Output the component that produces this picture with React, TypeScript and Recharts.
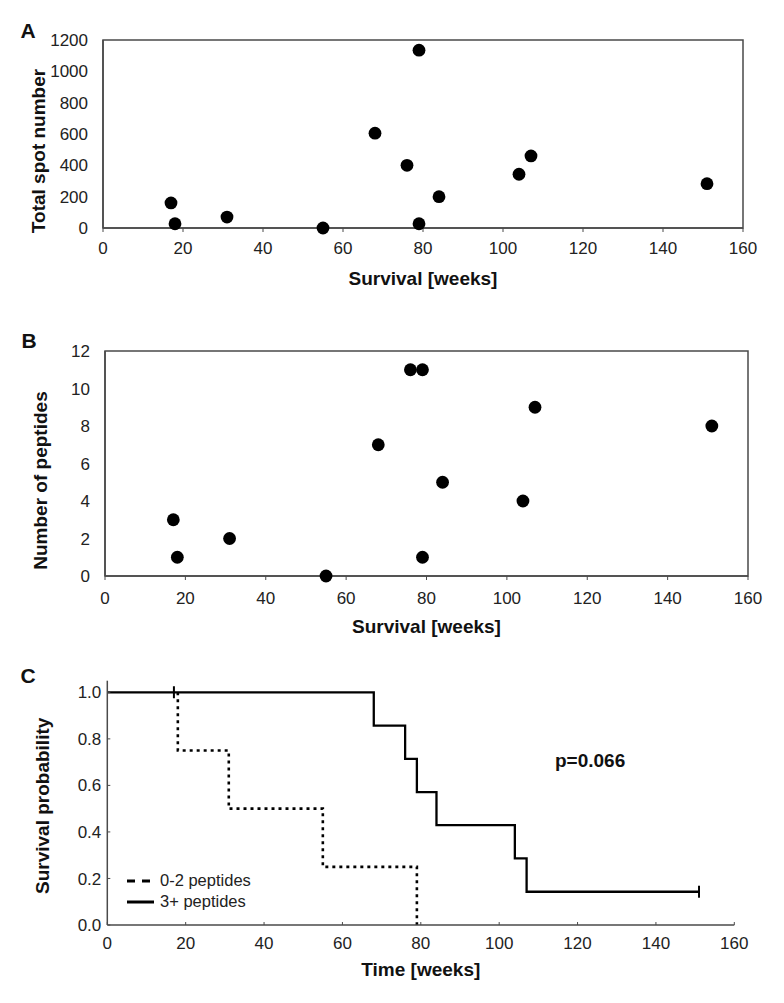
import {
  ScatterChart,
  Scatter,
  ComposedChart,
  Line,
  XAxis,
  YAxis,
  ReferenceArea,
  Label,
  Legend,
} from 'recharts';

// patients: survival in weeks, ELISpot total spots, number of recognised peptides
const survivalWeeks = [17, 18, 31, 55, 68, 76, 79, 79, 84, 104, 107, 151];
const totalSpots = [160, 27, 70, 0, 605, 400, 1135, 27, 200, 343, 460, 283];
const peptideCounts = [3, 1, 2, 0, 7, 11, 11, 1, 5, 4, 9, 8];

// Kaplan-Meier curves (the dotted 0-2 curve is only visible from its first drop on)
const lowTimes = [18, 18, 31, 55, 79];
const lowSurvival = [1, 0.75, 0.5, 0.25, 0];
const highTimes = [0, 68, 76, 79, 84, 104, 107, 151];
const highSurvival = [1, 0.857, 0.714, 0.571, 0.429, 0.286, 0.143, 0.143];
const censorTimes = [17, 151];
const censorSurvival = [1, 0.143];

const weekTicks = [0, 20, 40, 60, 80, 100, 120, 140, 160];
const spotTicks = [0, 200, 400, 600, 800, 1000, 1200];
const peptideTicks = [0, 2, 4, 6, 8, 10, 12];
const probTicks = [0, 0.2, 0.4, 0.6, 0.8, 1.0];

const spotData = survivalWeeks.map((x, i) => ({ x, y: totalSpots[i] }));
const peptideData = survivalWeeks.map((x, i) => ({ x, y: peptideCounts[i] }));
const lowData = lowTimes.map((t, i) => ({ t, s: lowSurvival[i] }));
const highData = highTimes.map((t, i) => ({ t, s: highSurvival[i] }));
const censorData = censorTimes.map((t, i) => ({ t, s: censorSurvival[i] }));

const AXIS = '#4a4a4a';
const tickStyle = { fontSize: 17, fill: '#222' };
const titleStyle = { fontSize: 19, fontWeight: 'bold', fill: '#111' };

const Dot = (p: any) => <circle cx={p.cx} cy={p.cy} r={6.4} fill="#000" />;

const CensorMark = (p: any) => (
  <line x1={p.cx} x2={p.cx} y1={p.cy - 6} y2={p.cy + 6} stroke="#000" strokeWidth={2} />
);

function KmLegend() {
  const row = { display: 'flex', alignItems: 'center', height: 21, fontSize: 16.5, color: '#222' };
  return (
    <div>
      <div style={row}>
        <svg width={27} height={6} style={{ marginRight: 6 }}>
          <line x1={0} x2={25} y1={3} y2={3} stroke="#000" strokeWidth={3} strokeDasharray="8 7" />
        </svg>
        <span>0-2 peptides</span>
      </div>
      <div style={row}>
        <svg width={27} height={6} style={{ marginRight: 6 }}>
          <line x1={0} x2={27} y1={3} y2={3} stroke="#000" strokeWidth={3} />
        </svg>
        <span>3+ peptides</span>
      </div>
    </div>
  );
}

function SurvivalScatter({
  data,
  yTicks,
  yTitle,
  top,
  margin,
  tickGap,
}: {
  data: { x: number; y: number }[];
  yTicks: number[];
  yTitle: string;
  top: number;
  margin: { top: number; right: number; bottom: number; left: number };
  tickGap: number;
}) {
  const yMax = yTicks[yTicks.length - 1];
  return (
    <div style={{ position: 'absolute', left: 0, top }}>
      <ScatterChart width={784} height={340} margin={margin}>
        <ReferenceArea x1={0} x2={160} y1={0} y2={yMax} fill="none" stroke={AXIS} strokeWidth={1.5} />
        <XAxis
          type="number"
          dataKey="x"
          domain={[0, 160]}
          ticks={weekTicks}
          interval={0}
          height={40}
          stroke={AXIS}
          axisLine={{ strokeWidth: 1.5 }}
          tickSize={4}
          tickMargin={tickGap}
          tick={tickStyle}
        >
          <Label value="Survival [weeks]" position="bottom" offset={4} style={titleStyle} />
        </XAxis>
        <YAxis
          type="number"
          dataKey="y"
          domain={[0, yMax]}
          ticks={yTicks}
          interval={0}
          width={60}
          stroke={AXIS}
          axisLine={{ strokeWidth: 1.5 }}
          tickLine={false}
          tickSize={6}
          tickMargin={9}
          tick={tickStyle}
        >
          <Label
            value={yTitle}
            angle={-90}
            position="left"
            offset={4.5}
            dy={17}
            style={{ ...titleStyle, textAnchor: 'middle' }}
          />
        </YAxis>
        <Scatter data={data} shape={Dot} isAnimationActive={false} />
      </ScatterChart>
    </div>
  );
}

export default function App() {
  return (
    <div
      style={{
        position: 'absolute',
        left: 0,
        top: 0,
        width: 784,
        height: 1003,
        background: '#fff',
        fontFamily: "'Liberation Sans', Arial, sans-serif",
      }}
    >
      <SurvivalScatter
        data={spotData}
        yTicks={spotTicks}
        yTitle="Total spot number"
        top={0}
        margin={{ top: 40, right: 41, bottom: 72, left: 43 }}
        tickGap={10}
      />
      <SurvivalScatter
        data={peptideData}
        yTicks={peptideTicks}
        yTitle="Number of peptides"
        top={300}
        margin={{ top: 51, right: 36, bottom: 24, left: 45 }}
        tickGap={12}
      />

      <div style={{ position: 'absolute', left: 0, top: 640 }}>
        <ComposedChart width={784} height={363} margin={{ top: 40.7, right: 49.7, bottom: 48, left: 47.3 }}>
          <XAxis
            type="number"
            dataKey="t"
            domain={[0, 160]}
            ticks={weekTicks}
            interval={0}
            height={30}
            stroke={AXIS}
            axisLine={{ strokeWidth: 1.5 }}
            tickSize={-3}
            tickMargin={15}
            tick={tickStyle}
          >
            <Label value="Time [weeks]" position="bottom" offset={8} style={titleStyle} />
          </XAxis>
          <YAxis
            type="number"
            dataKey="s"
            domain={[0, 1.05]}
            ticks={probTicks}
            interval={0}
            allowDataOverflow
            width={60}
            stroke={AXIS}
            axisLine={{ strokeWidth: 1.5 }}
            tickSize={-3}
            tickMargin={9}
            tick={tickStyle}
            tickFormatter={(v: number) => v.toFixed(1)}
          >
            <Label
              value="Survival probability"
              angle={-90}
              position="left"
              offset={5.3}
              dy={3}
              style={{ ...titleStyle, textAnchor: 'middle' }}
            />
          </YAxis>
          <Line
            data={lowData}
            dataKey="s"
            type="stepAfter"
            stroke="#000"
            strokeWidth={2.6}
            strokeDasharray="3 4"
            dot={false}
            isAnimationActive={false}
          />
          <Line
            data={highData}
            dataKey="s"
            type="stepAfter"
            stroke="#000"
            strokeWidth={2.3}
            dot={false}
            isAnimationActive={false}
          />
          <Scatter data={censorData} dataKey="s" shape={CensorMark} isAnimationActive={false} />
          <Legend
            layout="vertical"
            align="center"
            verticalAlign="middle"
            wrapperStyle={{ left: 127, top: 230, width: 'auto' }}
            content={() => <KmLegend />}
          />
        </ComposedChart>
      </div>

      <svg width={784} height={1003} style={{ position: 'absolute', left: 0, top: 0, pointerEvents: 'none' }}>
        <g fontWeight="bold" fill="#111">
          <text x={20.5} y={38.3} fontSize={21}>A</text>
          <text x={21.5} y={348.3} fontSize={21}>B</text>
          <text x={20.5} y={683.3} fontSize={21}>C</text>
          <text x={555} y={767} fontSize={19}>p=0.066</text>
        </g>
      </svg>
    </div>
  );
}
